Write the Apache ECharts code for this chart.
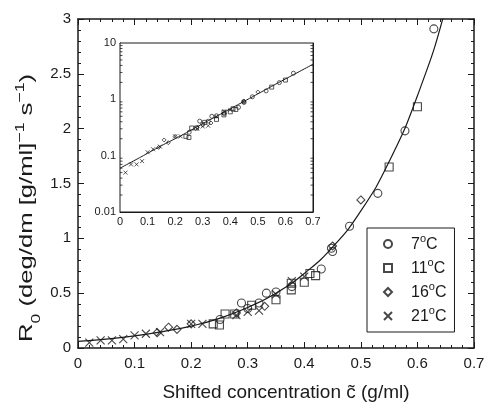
<!DOCTYPE html>
<html><head><meta charset="utf-8">
<script src="https://cdn.jsdelivr.net/npm/echarts@6/dist/echarts.min.js"></script>
<style>html,body{margin:0;padding:0;background:#fff}#c{width:489px;height:403px}</style>
</head><body><div id="c"></div>
<script>
// ---- data ----
const seriesNames = ['7°C', '11°C', '16°C', '21°C'];
const c7  = [0.251,0.289,0.30,0.32,0.333,0.35,0.378,0.43,0.448,0.45,0.48,0.53,0.578,0.629];
const r7  = [0.26, 0.41, 0.36,0.41,0.50, 0.51,0.56, 0.72,0.91, 0.88,1.11,1.41,1.98, 2.91];
const c11 = [0.239,0.25,0.26,0.277,0.307,0.35,0.377,0.377,0.40,0.41,0.42,0.55,0.60];
const r11 = [0.22, 0.21,0.31,0.31, 0.39, 0.44,0.53, 0.59, 0.60,0.68,0.66,1.65,2.2];
const c16 = [0.14,0.16,0.175,0.20,0.28,0.33,0.45,0.50];
const r16 = [0.14,0.19,0.17, 0.22,0.32,0.38,0.93,1.35];
const c21 = [0.02,0.04,0.06,0.08,0.10,0.12,0.145,0.20,0.22,0.28,0.30,0.32,0.35,0.378,0.40];
const r21 = [0.05,0.07,0.07,0.08,0.115,0.13,0.145,0.22,0.22,0.30,0.33,0.34,0.49,0.61,0.65];
// fitted curve
const curveC = [0,0.05,0.10,0.15,0.20,0.25,0.30,0.35,0.40,0.45,0.50,0.55,0.60,0.65,0.70];
const curveR = [0.06,0.081,0.11,0.15,0.20,0.27,0.37,0.50,0.68,0.92,1.25,1.70,2.30,3.10,4.2];
// inset log-axis minor tick values
const logMinorTicks = [0.02,0.03,0.04,0.05,0.06,0.07,0.08,0.09,0.2,0.3,0.4,0.5,0.6,0.7,0.8,0.9,2,3,4,5,6,7,8,9];

const zip = (a, b) => a.map((v, i) => [v, b[i]]);
const INK = '#1a1a1a';
const FONT = 'Liberation Sans, Arial, sans-serif';
const crossPath = 'path://M0,0L10,10M10,0L0,10';
const symbols = ['circle', 'rect', 'diamond', crossPath];
const dataSets = [zip(c7, r7), zip(c11, r11), zip(c16, r16), zip(c21, r21)];

function xAx(grid, pos, labels, fs, tl, ml) {
  return {
    type: 'value', gridIndex: grid, position: pos, min: 0, max: 0.7, interval: 0.1,
    axisLine: { show: true, onZero: false, lineStyle: { color: INK, width: grid === 0 ? 1.5 : 1 } },
    axisTick: { show: true, inside: true, length: tl, lineStyle: { color: INK, width: 1 } },
    minorTick: { show: true, splitNumber: 5, length: ml, lineStyle: { color: INK, width: 1 } },
    axisLabel: { show: labels, color: INK, fontSize: fs, fontFamily: FONT, margin: grid === 0 ? 8 : 4,
      formatter: v => (Math.round(v * 10) / 10).toString() },
    splitLine: { show: false }
  };
}

const sMain = [8, 8, 8, 8];
const sIn = [4, 4, 4, 4];

const series = [];
series.push({ type: 'line', xAxisIndex: 0, yAxisIndex: 0, data: zip(curveC, curveR), smooth: true,
  showSymbol: false, symbol: 'none', clip: true, lineStyle: { color: INK, width: 1.2 }, silent: true, z: 3 });
dataSets.forEach((d, i) => {
  series.push({ type: 'scatter', name: seriesNames[i], xAxisIndex: 0, yAxisIndex: 0, data: d,
    symbol: symbols[i], symbolSize: sMain[i],
    itemStyle: { color: 'rgba(255,255,255,0)', borderColor: INK, borderWidth: 1.1 }, z: 4 });
});
series.push({ type: 'line', xAxisIndex: 2, yAxisIndex: 2, data: zip(curveC, curveR), smooth: true,
  showSymbol: false, symbol: 'none', lineStyle: { color: INK, width: 1 }, silent: true, z: 3 });
dataSets.forEach((d, i) => {
  series.push({ type: 'scatter', name: 'inset ' + seriesNames[i], xAxisIndex: 2, yAxisIndex: 2, data: d,
    symbol: symbols[i], symbolSize: sIn[i],
    itemStyle: { color: 'rgba(255,255,255,0)', borderColor: INK, borderWidth: 0.9 }, z: 4 });
});
series.push({ type: 'custom', xAxisIndex: 2, yAxisIndex: 2, data: logMinorTicks.map(v => [v]), silent: true,
  renderItem: (params, api) => {
    const v = api.value(0);
    const pl = api.coord([0, v]);
    const pr = api.coord([0.7, v]);
    return { type: 'group', children: [
      { type: 'line', shape: { x1: pl[0], y1: pl[1], x2: pl[0] + 2.5, y2: pl[1] }, style: { stroke: INK, lineWidth: 0.8 } },
      { type: 'line', shape: { x1: pr[0], y1: pr[1], x2: pr[0] - 2.5, y2: pr[1] }, style: { stroke: INK, lineWidth: 0.8 } }
    ]};
  }, z: 5 });

const legendRich = {
  n: { fontSize: 16, fontFamily: FONT, color: INK, lineHeight: 18, verticalAlign: 'bottom' },
  s: { fontSize: 11, fontFamily: FONT, color: INK, lineHeight: 11, verticalAlign: 'bottom', padding: [0, 0, 9, 0] }
};

const option = {
  animation: false,
  backgroundColor: '#fff',
  grid: [
    { left: 78, top: 19, width: 396, height: 329, show: false },
    { left: 120, top: 43, width: 193, height: 169, show: true, backgroundColor: '#fff', borderColor: INK, borderWidth: 1, z: 2 }
  ],
  xAxis: [
    xAx(0, 'bottom', true, 15, 6, 3),
    xAx(0, 'top', false, 15, 6, 3),
    xAx(1, 'bottom', true, 11, 4, 2),
    xAx(1, 'top', false, 11, 4, 2)
  ],
  yAxis: [
    { type: 'value', gridIndex: 0, position: 'left', min: 0, max: 3, interval: 0.5,
      axisLine: { show: true, onZero: false, lineStyle: { color: INK, width: 1.5 } },
      axisTick: { show: true, inside: true, length: 6, lineStyle: { color: INK } },
      minorTick: { show: true, splitNumber: 5, length: 3, lineStyle: { color: INK } },
      axisLabel: { color: INK, fontSize: 15, fontFamily: FONT, margin: 7 }, splitLine: { show: false } },
    { type: 'value', gridIndex: 0, position: 'right', min: 0, max: 3, interval: 0.5,
      axisLine: { show: true, onZero: false, lineStyle: { color: INK, width: 1.5 } },
      axisTick: { show: true, inside: true, length: 6, lineStyle: { color: INK } },
      minorTick: { show: true, splitNumber: 5, length: 3, lineStyle: { color: INK } },
      axisLabel: { show: false }, splitLine: { show: false } },
    { type: 'log', logBase: 10, gridIndex: 1, position: 'left', min: 0.01, max: 10,
      axisLine: { show: true, onZero: false, lineStyle: { color: INK, width: 1 } },
      axisTick: { show: true, inside: true, length: 4, lineStyle: { color: INK } },
      axisLabel: { color: INK, fontSize: 11, fontFamily: FONT, margin: 4,
        formatter: v => String(Number(v.toPrecision(3))) }, splitLine: { show: false } },
    { type: 'log', logBase: 10, gridIndex: 1, position: 'right', min: 0.01, max: 10,
      axisLine: { show: true, onZero: false, lineStyle: { color: INK, width: 1 } },
      axisTick: { show: true, inside: true, length: 4, lineStyle: { color: INK } },
      axisLabel: { show: false }, splitLine: { show: false } }
  ],
  legend: {
    orient: 'vertical', left: 367, top: 228, data: seriesNames,
    itemWidth: 8, itemHeight: 8, itemGap: 4,
    padding: [5, 8, 7, 16],
    borderColor: INK, borderWidth: 1,
    textStyle: { padding: [0, 0, 0, 14], rich: legendRich },
    formatter: name => { const m = name.match(/^(\d+)°C$/); return '{n|' + m[1] + '}{s|o}{n|C}'; },
    selectedMode: false
  },
  graphic: [
    { type: 'text', x: 27, y: 208, rotation: Math.PI / 2, scaleX: 1.35, z: 10,
      style: { text: '{a|R}{b|0}{a| (deg/dm [g/ml]}{c|−1}{a| s}{c|−1}{a|)}', align: 'center', verticalAlign: 'middle',
        rich: {
          a: { fontSize: 19, fontFamily: FONT, fill: INK, lineHeight: 26, verticalAlign: 'middle' },
          b: { fontSize: 13, fontFamily: FONT, fill: INK, lineHeight: 26, verticalAlign: 'bottom', padding: [0, 0, -3, 0] },
          c: { fontSize: 13, fontFamily: FONT, fill: INK, lineHeight: 13, verticalAlign: 'top' }
        } } },
    { type: 'text', x: 286, y: 393, z: 10,
      style: { text: 'Shifted concentration c\u0303 (g/ml)', align: 'center', verticalAlign: 'middle',
        fontSize: 19, fontFamily: FONT, fill: INK } }
  ],
  series: series
};
const chart = echarts.init(document.getElementById('c'), null, { renderer: 'canvas' });
chart.setOption(option);
</script></body></html>
